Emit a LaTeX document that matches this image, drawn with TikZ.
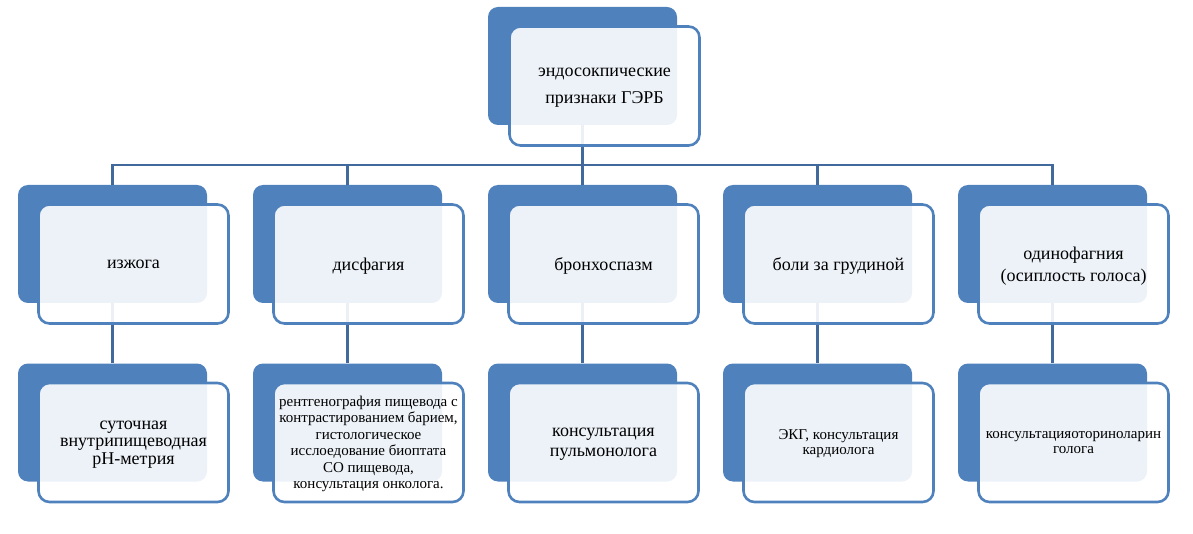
\documentclass[tikz,border=0pt]{standalone}
\usepackage{fontspec}
\setmainfont{Liberation Serif}
\usepackage{tikz}

\definecolor{smblue}{RGB}{79,129,189}
\definecolor{linkblue}{RGB}{65,105,155}
\newcommand{\bigtxt}{\fontsize{18}{22}\selectfont}
\newcommand{\smalltxt}{\fontsize{15}{16.5}\selectfont}

\tikzset{
  backbox/.style={rectangle, rounded corners=10pt, fill=smblue, minimum width=189pt, minimum height=118pt, inner sep=0pt},
  frontbox/.style={rectangle, rounded corners=11pt, draw=smblue, line width=2.6pt, fill=white, fill opacity=0.9, text opacity=1, minimum width=190pt, minimum height=119pt, inner sep=2pt, text depth=0pt, align=center, font=\bigtxt},
  link/.style={draw=linkblue, line width=2.6pt}
}

\begin{document}
\begin{tikzpicture}[x=1pt,y=1pt]
  \useasboundingbox (0,0) rectangle (1193,-534);

  % back plates
  \node[backbox] (rootback) at (582.5,-66) {};
  \node[backbox] (symp1back) at (112.5,-244) {};
  \node[backbox] (symp2back) at (347.5,-244) {};
  \node[backbox] (symp3back) at (582.5,-244) {};
  \node[backbox] (symp4back) at (817.5,-244) {};
  \node[backbox] (symp5back) at (1052.5,-244) {};
  \node[backbox] (exam1back) at (112.5,-422.5) {};
  \node[backbox] (exam2back) at (347.5,-422.5) {};
  \node[backbox] (exam3back) at (582.5,-422.5) {};
  \node[backbox] (exam4back) at (817.5,-422.5) {};
  \node[backbox] (exam5back) at (1052.5,-422.5) {};

  % connectors
  \draw[link] (rootback.south) -- ++(0,-40) -| (symp1back.north);
  \draw[link] (rootback.south) -- ++(0,-40) -| (symp2back.north);
  \draw[link] (rootback.south) -- (symp3back.north);
  \draw[link] (rootback.south) -- ++(0,-40) -| (symp4back.north);
  \draw[link] (rootback.south) -- ++(0,-40) -| (symp5back.north);
  \draw[link] (symp1back.south) -- (exam1back.north);
  \draw[link] (symp2back.south) -- (exam2back.north);
  \draw[link] (symp3back.south) -- (exam3back.north);
  \draw[link] (symp4back.south) -- (exam4back.north);
  \draw[link] (symp5back.south) -- (exam5back.north);

  % front cards
  \node[frontbox, font=\fontsize{18}{27}\selectfont] (root) at (604.5,-86) {эндосокпические\\признаки ГЭРБ};
  \node[frontbox] (symp1) at (133.5,-264) {изжога};
  \node[frontbox] (symp2) at (368.5,-264) {дисфагия};
  \node[frontbox] (symp3) at (603.5,-264) {бронхоспазм};
  \node[frontbox] (symp4) at (838.5,-264) {боли за грудиной};
  \node[frontbox] (symp5) at (1073.5,-264) {одинофагния\\(осиплость голоса)};
  \node[frontbox, font=\fontsize{18}{17.5}\selectfont] (exam1) at (133.5,-442.5) {суточная\\внутрипищеводная\\pH-метрия};
  \node[frontbox, font=\smalltxt] (exam2) at (368.5,-442.5) {рентгенография пищевода с\\контрастированием барием,\\гистологическое\\исслоедование биоптата\\СО пищевода,\\консультация онколога.};
  \node[frontbox, font=\fontsize{18}{20}\selectfont] (exam3) at (603.5,-442.5) {консультация\\пульмонолога};
  \node[frontbox, font=\fontsize{15}{15}\selectfont] (exam4) at (838.5,-442.5) {ЭКГ, консультация\\кардиолога};
  \node[frontbox, font=\fontsize{15}{15}\selectfont] (exam5) at (1073.5,-442.5) {консультацияоториноларин\\голога};
\end{tikzpicture}
\end{document}
